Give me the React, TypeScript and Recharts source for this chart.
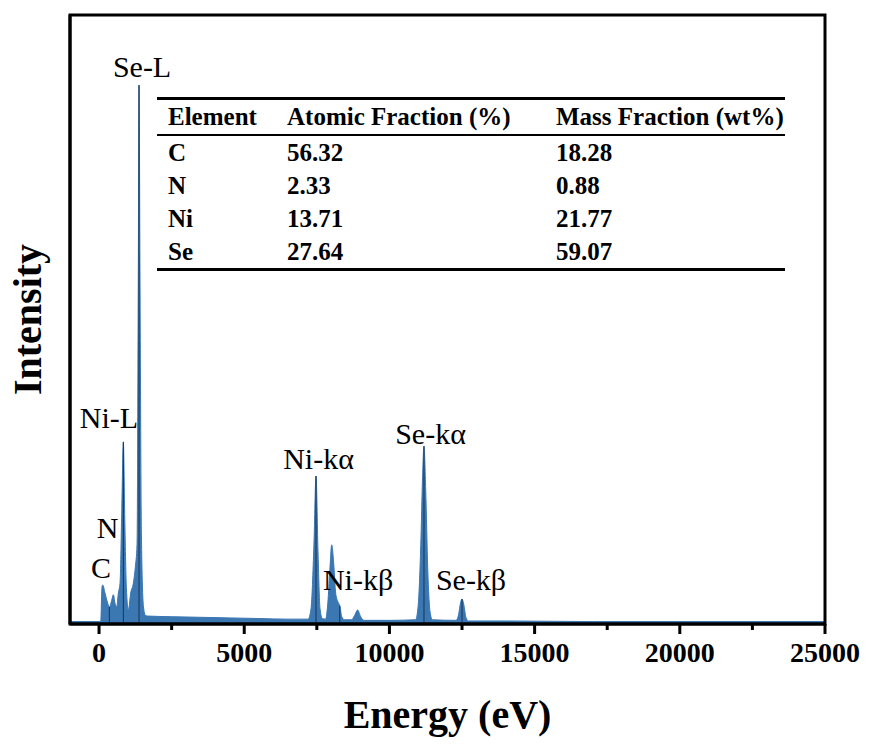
import React from 'react';
import { AreaChart, Area, XAxis, YAxis, ReferenceArea, ReferenceLine, ReferenceDot } from 'recharts';

// EDS spectrum (energy in eV, intensity in % of frame height)
const energy = [
  -1000, 0, 60, 100, 127, 205, 287, 356, 436, 493, 551, 608, 666, 723, 781, 838, 884, 941, 1010,
  1090, 1182, 1251, 1308, 1354, 1377, 1412, 1458, 1527, 1596, 1700, 2500, 3500, 4500, 5500, 6500,
  7200, 7300, 7400, 7472, 7540, 7610, 7690, 7800, 7880, 7950, 8013, 8080, 8150, 8230, 8290, 8360,
  8450, 8700, 8800, 8908, 9000, 9120, 10000, 10900, 10990, 11080, 11140, 11190, 11250, 11320, 11400,
  11480, 12300, 12380, 12450, 12500, 12560, 12640, 12720, 14000, 17000, 20000, 25000,
];
const intensity = [
  0.4, 0.4, 0.5, 6.0, 6.4, 5.1, 3.6, 2.8, 3.9, 4.8, 3.4, 2.8, 5.1, 6.7, 18.2, 29.9, 18.0, 6.0, 2.3,
  5.1, 6.7, 9.4, 13.0, 60.0, 88.5, 55.0, 15.0, 3.0, 1.4, 1.3, 1.2, 1.1, 1.0, 0.9, 0.8,
  0.8, 2.5, 13.0, 24.3, 12.0, 2.5, 0.9, 0.8, 3.5, 9.0, 13.0, 10.0, 5.0, 3.6, 3.0, 1.2,
  0.7, 0.7, 1.4, 2.3, 1.3, 0.6, 0.6, 0.7, 3.0, 13.0, 24.0, 29.2, 22.0, 9.0, 2.0,
  0.7, 0.6, 1.5, 3.5, 4.1, 3.2, 1.0, 0.5, 0.5, 0.4, 0.4, 0.4,
];

// emission line markers drawn inside the peaks
const markerEnergy = [356, 838, 1377, 7472, 8290, 11190, 12500];
const markerHeight = [2.8, 29.9, 88.5, 24.3, 3.0, 29.2, 4.1];

// peak labels: text, anchor energy, anchor intensity (baseline)
const peakNames = ['Se-L', 'Ni-L', 'N', 'C', 'Ni-kα', 'Se-kα', 'Ni-kβ', 'Se-kβ'];
const peakLabelEnergy = [1481, 344, 293, 69, 7558, 11415, 8919, 12810];
const peakLabelIntensity = [89.8, 32.2, 14.1, 7.6, 25.5, 29.6, 5.6, 5.6];

const majorTicks = [0, 5000, 10000, 15000, 20000, 25000];
const minorTicks = [2500, 7500, 12500, 17500, 22500];

const tableHeader = ['Element', 'Atomic Fraction (%)', 'Mass Fraction (wt%)'];
const elements = ['C', 'N', 'Ni', 'Se'];
const atomicFraction = ['56.32', '2.33', '13.71', '27.64'];
const massFraction = ['18.28', '0.88', '21.77', '59.07'];

const serif = "'Times New Roman', 'Liberation Serif', serif";
const blue = '#3a77b3';

const data = energy.map((e, k) => ({ e, i: intensity[k] }));

const EnergyTick = (props: any) => {
  const { x, y, payload } = props;
  const major = payload.value % 5000 === 0;
  return (
    <g>
      <line x1={x} x2={x} y1={y} y2={y + (major ? 10 : 6)} stroke="#000" strokeWidth={3} />
      {major && (
        <text x={x} y={y + 38} textAnchor="middle" fontSize={28} fontWeight="bold" fontFamily={serif} fill="#000">
          {payload.value}
        </text>
      )}
    </g>
  );
};

const xLabel = (props: any) => {
  const vb = props.viewBox;
  return (
    <text x={vb.x + vb.width / 2} y={vb.y + 104} textAnchor="middle" fontSize={40} fontWeight="bold" fontFamily={serif} fill="#000">
      Energy (eV)
    </text>
  );
};

const yLabel = (props: any) => {
  const vb = props.viewBox;
  const cx = 41;
  const cy = vb.y + vb.height / 2;
  return (
    <text x={cx} y={cy} transform={`rotate(-90, ${cx}, ${cy})`} textAnchor="middle" fontSize={40} fontWeight="bold" fontFamily={serif} fill="#000">
      Intensity
    </text>
  );
};

const cellStyle: React.CSSProperties = { padding: 0, textAlign: 'left', fontWeight: 'bold', verticalAlign: 'middle' };

export default function App() {
  return (
    <div style={{ position: 'absolute', left: 0, top: 0, width: 873, height: 744, background: '#fff' }}>
      <AreaChart width={873} height={744} data={data} margin={{ top: 15, right: 48, bottom: 0, left: 0 }}>
        <XAxis
          type="number"
          dataKey="e"
          domain={[-1000, 25000]}
          ticks={[...majorTicks, ...minorTicks]}
          interval={0}
          allowDataOverflow
          height={120}
          tickSize={0}
          tickMargin={0}
          tickLine={false}
          tick={<EnergyTick />}
          axisLine={{ stroke: '#000', strokeWidth: 3 }}
          label={{ content: xLabel }}
        />
        <YAxis
          type="number"
          domain={[0, 100]}
          allowDataOverflow
          width={70}
          tick={false}
          tickLine={false}
          axisLine={{ stroke: '#000', strokeWidth: 3 }}
          label={{ content: yLabel }}
        />
        <Area
          type="monotone"
          dataKey="i"
          stroke={blue}
          strokeWidth={1}
          fill={blue}
          fillOpacity={1}
          dot={false}
          activeDot={false}
          isAnimationActive={false}
        />
        {markerEnergy.map((e, k) => (
          <ReferenceLine
            key={`m${k}`}
            segment={[{ x: e, y: 0 }, { x: e, y: markerHeight[k] }]}
            stroke="#1b3550"
            strokeWidth={1}
          />
        ))}
        {peakNames.map((name, k) => (
          <ReferenceDot
            key={name}
            x={peakLabelEnergy[k]}
            y={peakLabelIntensity[k]}
            r={0}
            shape={(p: any) => (
              <text x={p.cx} y={p.cy} textAnchor="middle" fontSize={30} fontFamily={serif} fill="#000">
                {name}
              </text>
            )}
          />
        ))}
        <ReferenceArea x1={-1000} x2={25000} y1={0} y2={100} fill="none" stroke="#000" strokeWidth={3} />
      </AreaChart>
      <div style={{ position: 'absolute', left: 157, top: 97, width: 628, fontFamily: serif, fontSize: 25, color: '#000' }}>
        <table style={{ width: '100%', borderCollapse: 'collapse', tableLayout: 'fixed', borderTop: '3px solid #000', borderBottom: '3px solid #000' }}>
          <colgroup>
            <col style={{ width: 130 }} />
            <col style={{ width: 269 }} />
            <col />
          </colgroup>
          <thead>
            <tr style={{ borderBottom: '2px solid #000' }}>
              {tableHeader.map((h, k) => (
                <th key={h} style={{ ...cellStyle, height: 34, paddingLeft: k === 0 ? 11 : 0 }}>{h}</th>
              ))}
            </tr>
          </thead>
          <tbody>
            {elements.map((el, k) => (
              <tr key={el}>
                <td style={{ ...cellStyle, height: 33, paddingLeft: 11 }}>{el}</td>
                <td style={{ ...cellStyle, height: 33 }}>{atomicFraction[k]}</td>
                <td style={{ ...cellStyle, height: 33 }}>{massFraction[k]}</td>
              </tr>
            ))}
          </tbody>
        </table>
      </div>
    </div>
  );
}
